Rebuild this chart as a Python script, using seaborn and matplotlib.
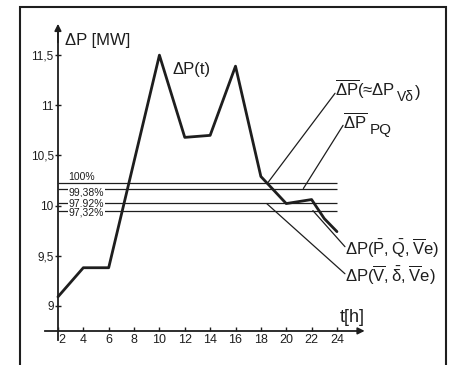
import matplotlib
matplotlib.use("Agg")
import matplotlib.pyplot as plt
import matplotlib.patches as patches
import seaborn as sns

# hourly losses
hours = [2, 4, 6, 8, 10, 12, 14, 16, 18, 20, 22, 23, 24]
delta_p = [9.09, 9.38, 9.38, 10.44, 11.50, 10.68, 10.70, 11.39, 10.29, 10.02, 10.06, 9.87, 9.74]

# mean-loss levels and their labels
levels = [10.23, 10.17, 10.03, 9.95]
level_labels = ["100%", "99,38%", "97,92%", "97,32%"]

x_ticks = [2, 4, 6, 8, 10, 12, 14, 16, 18, 20, 22, 24]
y_ticks = [9, 9.5, 10, 10.5, 11, 11.5]
y_tick_labels = ["9", "9,5", "10", "10,5", "11", "11,5"]

ink = "#1e1e1e"

sns.set_theme(style="white")
plt.rcParams["font.family"] = ["Liberation Sans", "DejaVu Sans"]
plt.rcParams["mathtext.default"] = "regular"

fig = plt.figure(figsize=(4.53, 3.65), dpi=100)
ax = fig.add_axes([0, 0, 1, 1])
ax.set_facecolor("none")
ax.set_xlim(-2.57, 33.15)
ax.set_ylim(8.41, 12.05)

sns.lineplot(x=hours, y=delta_p, ax=ax, color=ink, lw=2.0)
ax.hlines(levels, 2, 24, colors=ink, lw=0.9)

# axes drawn as crossing arrows
for side in ["top", "right"]:
    ax.spines[side].set_visible(False)
ax.spines["left"].set_position(("data", 2))
ax.spines["bottom"].set_position(("data", 8.75))
ax.spines["left"].set_bounds(8.66, 11.75)
ax.spines["bottom"].set_bounds(0.97, 26.0)
for side in ["left", "bottom"]:
    ax.spines[side].set_color(ink)
    ax.spines[side].set_linewidth(1.3)
ax.annotate("", xy=(2, 11.84), xytext=(2, 11.6),
            arrowprops=dict(arrowstyle="-|>", color=ink, lw=1.2, mutation_scale=10))
ax.annotate("", xy=(26.4, 8.75), xytext=(25.5, 8.75),
            arrowprops=dict(arrowstyle="-|>", color=ink, lw=1.2, mutation_scale=10))

ax.set_xticks(x_ticks)
ax.set_xticklabels([str(t) for t in x_ticks], fontsize=9, color=ink)
ax.set_yticks(y_ticks)
ax.set_yticklabels(y_tick_labels, fontsize=8.5, color=ink)
ax.xaxis.get_ticklabels()[0].set_ha("left")
ax.tick_params(axis="x", direction="in", length=3, width=1, color=ink, pad=2, bottom=True)
ax.tick_params(axis="y", direction="inout", length=4, width=1, color=ink, pad=1, left=True)
ax.set_xlabel("")
ax.set_ylabel("")

# level labels sitting on the lines
ax.text(2.8, 10.235, level_labels[0], fontsize=7.5, color=ink, va="bottom")
for lev, lab, yy in zip(levels[1:], level_labels[1:], [10.13, 10.025, 9.93]):
    ax.text(2.85, yy, lab, fontsize=7.5, color=ink, va="center",
            bbox=dict(facecolor="white", edgecolor="none", pad=0.6))

ax.text(2.55, 11.65, "ΔP [MW]", fontsize=12, color=ink, va="center")
ax.text(11.07, 11.36, "ΔP(t)", fontsize=12, color=ink, va="center")
ax.text(24.24, 8.88, "t[h]", fontsize=13, color=ink, va="center")

# leader lines to the curve labels
leaders = [
    ((18.56, 10.23), (23.85, 11.12)),
    ((21.35, 10.17), (24.48, 10.80)),
    ((22.1, 9.95), (24.63, 9.59)),
    ((18.46, 10.02), (24.63, 9.32)),
]
for (x0, y0), (x1, y1) in leaders:
    ax.plot([x0, x1], [y0, y1], color=ink, lw=0.9)

# mean-loss label with a big subscript
t1 = ax.text(23.85, 11.16, r"$\overline{\Delta P}$(≈ΔP", fontsize=12, color=ink, va="center")
s1 = ax.annotate("Vδ", xy=(1, 0.15), xycoords=t1, xytext=(1, 0), textcoords="offset points",
                 fontsize=10, color=ink, va="center")
ax.annotate(")", xy=(1, 0.85), xycoords=s1, xytext=(1, 0), textcoords="offset points",
            fontsize=12, color=ink, va="center")

t2 = ax.text(24.48, 10.84, r"$\overline{\Delta P}$", fontsize=12, color=ink, va="center")
ax.annotate("PQ", xy=(1, 0.05), xycoords=t2, xytext=(2, 0), textcoords="offset points",
            fontsize=11, color=ink, va="center")

ax.text(24.63, 9.57, r"$\Delta P(\bar{P},\bar{Q},\overline{V}e)$", fontsize=12, color=ink, va="center")
ax.text(24.63, 9.30, r"$\Delta P(\overline{V},\bar{\delta},\overline{V}e)$", fontsize=12, color=ink, va="center")

# outer frame of the drawing
fig.patches.append(patches.Rectangle((0.044, -0.05), 0.940, 1.031, transform=fig.transFigure,
                                     fill=False, edgecolor=ink, lw=1.5))

fig.savefig("out.png", dpi=100, facecolor="white")
